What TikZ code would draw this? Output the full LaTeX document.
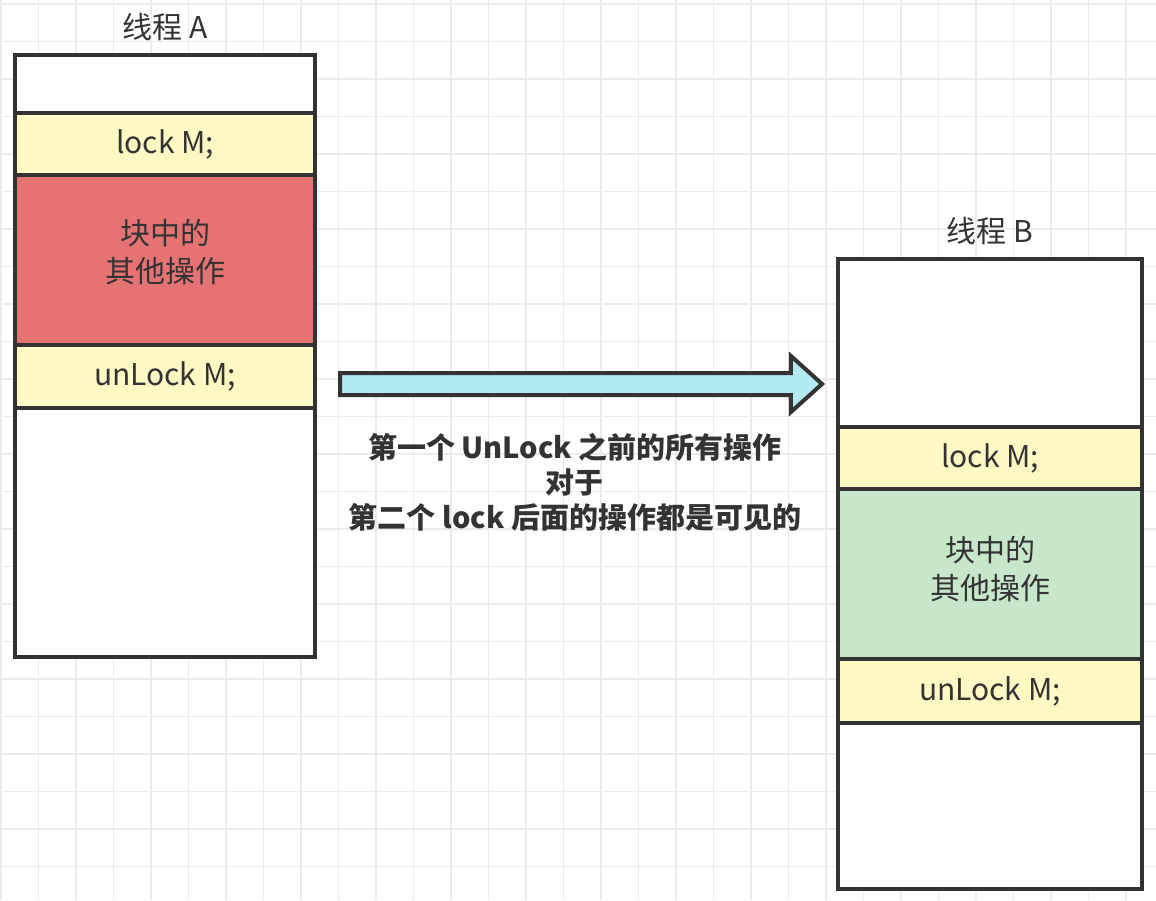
\documentclass[tikz,border=0pt]{standalone}
\usepackage{fontspec}
\setmainfont{Noto Sans CJK SC}
\usepackage{color}
\usetikzlibrary{positioning,shapes.arrows}

\definecolor{ink}{HTML}{333333}
\definecolor{gridline}{HTML}{EBEBEB}
\definecolor{lockyellow}{HTML}{FFF9C4}
\definecolor{opred}{HTML}{E57373}
\definecolor{opgreen}{HTML}{C8E6C9}
\definecolor{flowcyan}{HTML}{B2EBF2}

\begin{document}
\begin{tikzpicture}[x=1pt,y=-1pt,font=\fontsize{30}{38}\selectfont]
  \tikzstyle{cell} = [rectangle,draw=ink,line width=4pt,text=ink,align=center,
                      inner sep=0pt,outer sep=0pt,fill=white]
  \tikzstyle{lockcell} = [cell,fill=lockyellow]
  \tikzstyle{title} = [text=ink,inner sep=0pt]
  \tikzstyle{flowarrow} = [single arrow,draw=ink,line width=4pt,fill=flowcyan,
                           inner sep=9pt,single arrow head extend=17pt,
                           single arrow tip angle=84,outer sep=0pt]

  \useasboundingbox (0,0) rectangle (1156,900);
  \fill[white] (0,0) rectangle (1156,900);
  \foreach \i in {0,...,30}
    \draw[gridline,line width=1.5pt] ({1+37.5*\i},0) -- ++(0,900);
  \foreach \i in {0,...,23}
    \draw[gridline,line width=1.5pt] (0,{4+37.5*\i}) -- ++(1156,0);

  % thread A
  \node [cell,minimum width=300pt,minimum height=58pt,anchor=north] (a0) at (165,55) {};
  \node [lockcell,minimum width=300pt,minimum height=62pt,below=0pt of a0] (alock) {lock M;};
  \node [cell,fill=opred,minimum width=300pt,minimum height=170pt,below=0pt of alock] (aops) {};
  \node [text=ink,align=center,yshift=8pt] (aopstext) at (aops) {块中的\\其他操作};
  \node [lockcell,minimum width=300pt,minimum height=63pt,below=0pt of aops] (aunlock) {unLock M;};
  \node [cell,minimum width=300pt,minimum height=249pt,below=0pt of aunlock] (a1) {};
  \node [title,above=14pt of a0] (atitle) {线程 A};

  % thread B
  \node [cell,minimum width=304pt,minimum height=168pt,anchor=north] (b0) at (990,259) {};
  \node [lockcell,minimum width=304pt,minimum height=62pt,below=0pt of b0] (block) {lock M;};
  \node [cell,fill=opgreen,minimum width=304pt,minimum height=170pt,below=0pt of block] (bops) {};
  \node [text=ink,align=center,yshift=5pt] (bopstext) at (bops) {块中的\\其他操作};
  \node [lockcell,minimum width=304pt,minimum height=64pt,below=0pt of bops] (bunlock) {unLock M;};
  \node [cell,minimum width=304pt,minimum height=166pt,below=0pt of bunlock] (b1) {};
  \node [title,above=14pt of b0] (btitle) {线程 B};

  % happens-before
  \node [flowarrow,minimum height=482pt,anchor=west] (flow) at (340,384) {};
  \node [text=ink,align=center,font=\fontsize{29}{35}\selectfont\bfseries,
         below=35pt of flow] (rule)
        {第一个 UnLock 之前的所有操作\\对于\\第二个 lock 后面的操作都是可见的};
\end{tikzpicture}
\end{document}
